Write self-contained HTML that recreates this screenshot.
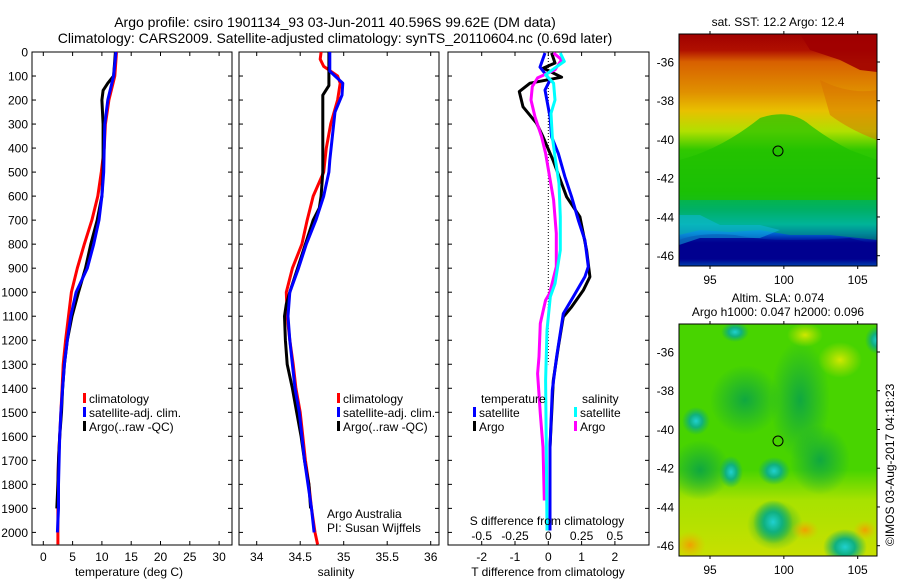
<!DOCTYPE html>
<html><head><meta charset="utf-8">
<style>
html,body{margin:0;padding:0;background:#fff;}
svg{display:block;font-family:"Liberation Sans",sans-serif;}
text{fill:#000;}
</style></head>
<body>
<svg id="fig" width="900" height="580" viewBox="0 0 900 580" xmlns="http://www.w3.org/2000/svg">
<defs>
<linearGradient id="sstGrad" x1="0" y1="0" x2="0" y2="1">
<stop offset="0" stop-color="#a00000"/>
<stop offset="0.07" stop-color="#b01000"/>
<stop offset="0.12" stop-color="#d86000"/>
<stop offset="0.25" stop-color="#e09000"/>
<stop offset="0.33" stop-color="#e8c000"/>
<stop offset="0.42" stop-color="#b0e000"/>
<stop offset="0.5" stop-color="#30c800"/>
<stop offset="0.68" stop-color="#10c010"/>
<stop offset="0.76" stop-color="#00b070"/>
<stop offset="0.82" stop-color="#00b8d0"/>
<stop offset="0.86" stop-color="#0060d0"/>
<stop offset="0.9" stop-color="#000090"/>
<stop offset="0.97" stop-color="#000090"/>
<stop offset="1" stop-color="#00a0e0"/>
</linearGradient>
<linearGradient id="slaBottom" x1="0" y1="0" x2="0" y2="1">
<stop offset="0" stop-color="#b8e400" stop-opacity="0"/>
<stop offset="0.35" stop-color="#b8e400" stop-opacity="0.85"/>
<stop offset="1" stop-color="#c8e000" stop-opacity="1"/>
</linearGradient>
<radialGradient id="blobDark"><stop offset="0" stop-color="#10a840"/><stop offset="1" stop-color="#10a840" stop-opacity="0"/></radialGradient>
<radialGradient id="blobCyan"><stop offset="0" stop-color="#20d0d0"/><stop offset="0.45" stop-color="#10b080"/><stop offset="1" stop-color="#10b060" stop-opacity="0"/></radialGradient>
<radialGradient id="blobYel"><stop offset="0" stop-color="#d0e800"/><stop offset="1" stop-color="#c0e000" stop-opacity="0"/></radialGradient>
<radialGradient id="blobOr"><stop offset="0" stop-color="#f0a000"/><stop offset="1" stop-color="#e0c000" stop-opacity="0"/></radialGradient>
<clipPath id="clipMap1"><rect x="679" y="34" width="198" height="232"/></clipPath>
<clipPath id="clipMap2"><rect x="679" y="324" width="198" height="232"/></clipPath>
</defs>

<text x="335" y="27" font-size="14" text-anchor="middle">Argo profile: csiro 1901134_93 03-Jun-2011 40.596S 99.62E (DM data)</text>
<text x="335" y="43" font-size="14" text-anchor="middle">Climatology: CARS2009. Satellite-adjusted climatology: synTS_20110604.nc (0.69d later)</text>

<g id="p1"></g>
<g id="p2"></g>
<g id="p3"></g>

<!-- Map 1: SST -->
<g>
<text x="778" y="26" font-size="12" text-anchor="middle">sat. SST: 12.2 Argo: 12.4</text>
<g clip-path="url(#clipMap1)">
<rect x="679" y="34" width="198" height="232" fill="url(#sstGrad)"/>
<path d="M800 34 L877 34 L877 72 L860 70 L840 60 L810 50 Z" fill="#a00000" opacity="0.9"/>
<path d="M820 80 Q850 95 877 90 L877 140 Q850 130 830 115 Z" fill="#d87000" opacity="0.5"/>
<path d="M760 118 Q790 108 810 125 Q830 140 850 150 L877 160 L877 200 L679 200 L679 160 Q720 150 760 118 Z" fill="#20c000" opacity="0.7"/>
<path d="M679 200 L877 200 L877 240 L830 235 L790 235 L760 230 L730 232 L700 230 L679 235 Z" fill="#00b060" opacity="0.5"/>
<path d="M679 240 Q700 232 735 235 Q760 240 790 240 Q820 240 850 238 L877 245 L877 266 L679 266 Z" fill="#000090" opacity="0.6"/>
<path d="M679 215 L700 215 L720 225 L760 225 L780 230 L760 238 L700 238 L679 245 Z" fill="#10b8e0" opacity="0.5"/>
</g>
<rect x="679" y="34" width="198" height="232" fill="none" stroke="#000" stroke-width="1"/>
<circle cx="778" cy="151" r="5" fill="none" stroke="#000" stroke-width="1"/>
<g id="m1axes"></g>
</g>

<!-- Map 2: SLA -->
<g>
<text x="778" y="302" font-size="12" text-anchor="middle">Altim. SLA: 0.074</text>
<text x="778" y="316" font-size="12" text-anchor="middle">Argo h1000: 0.047 h2000: 0.096</text>
<g clip-path="url(#clipMap2)">
<rect x="679" y="324" width="198" height="232" fill="#48d400"/>
<rect x="679" y="470" width="198" height="86" fill="url(#slaBottom)"/>
<ellipse cx="745" cy="400" rx="35" ry="35" fill="url(#blobDark)"/>
<ellipse cx="800" cy="400" rx="30" ry="60" fill="url(#blobDark)"/>
<ellipse cx="820" cy="460" rx="30" ry="35" fill="url(#blobDark)"/>
<ellipse cx="700" cy="470" rx="30" ry="30" fill="url(#blobDark)"/>
<ellipse cx="775" cy="525" rx="28" ry="25" fill="url(#blobDark)"/>
<ellipse cx="696" cy="421" rx="14" ry="14" fill="url(#blobCyan)"/>
<ellipse cx="731" cy="472" rx="12" ry="16" fill="url(#blobCyan)"/>
<ellipse cx="774" cy="471" rx="16" ry="14" fill="url(#blobCyan)"/>
<ellipse cx="773" cy="522" rx="20" ry="22" fill="url(#blobCyan)"/>
<ellipse cx="845" cy="547" rx="22" ry="18" fill="url(#blobCyan)"/>
<ellipse cx="735" cy="332" rx="14" ry="10" fill="url(#blobCyan)"/>
<ellipse cx="877" cy="340" rx="12" ry="14" fill="url(#blobCyan)"/>
<ellipse cx="840" cy="360" rx="22" ry="18" fill="url(#blobYel)"/>
<ellipse cx="805" cy="335" rx="18" ry="12" fill="url(#blobYel)"/>
<ellipse cx="690" cy="545" rx="16" ry="14" fill="url(#blobOr)"/>
<ellipse cx="805" cy="530" rx="14" ry="10" fill="url(#blobOr)"/>
<ellipse cx="865" cy="530" rx="12" ry="10" fill="url(#blobOr)"/>
</g>
<rect x="679" y="324" width="198" height="232" fill="none" stroke="#000" stroke-width="1"/>
<circle cx="778" cy="441" r="5" fill="none" stroke="#000" stroke-width="1"/>
<g id="m2axes"></g>
</g>
<text transform="translate(894,546) rotate(-90)" font-size="12">©IMOS 03-Aug-2017 04:18:23</text>
</svg>

<script>
// ---- depth axis data ----
const depthTicks = [0,100,200,300,400,500,600,700,800,900,1000,1100,1200,1300,1400,1500,1600,1700,1800,1900,2000];
// ---- temperature (deg C) ----
const tempTicks = [0,5,10,15,20,25,30];
const tClimDepth = [0,100,200,300,400,500,600,700,800,900,1000,1100,1200,1300,1400,1500,1600,1700,1800,1900,2050];
const tClim = [12.5,12.2,11.2,10.6,10.4,9.9,9.3,8.3,7.0,5.8,4.8,4.3,3.8,3.4,3.2,3.0,2.8,2.6,2.5,2.5,2.5];
const tSatDepth = [0,100,200,300,400,500,600,700,800,900,1000,1100,1200,1300,1400,1500,1600,1700,1800,1900,2000];
const tSat = [12.4,12.0,11.0,10.5,10.4,10.3,10.0,9.5,8.6,7.5,5.6,4.7,4.1,3.6,3.3,3.0,2.8,2.7,2.6,2.6,2.4];
const tArgoDepth = [0,100,130,160,200,300,400,500,600,700,800,900,1000,1100,1200,1300,1400,1500,1600,1700,1800,1900];
const tArgo = [12.3,12.0,11.0,10.2,10.0,10.2,10.2,10.2,10.0,9.2,8.1,7.2,6.0,4.9,4.1,3.6,3.3,3.1,2.8,2.6,2.5,2.3];
// ---- salinity ----
const salTicks = [34,34.5,35,35.5,36];
const sClimDepth = [0,30,60,80,100,130,200,300,400,500,600,700,800,900,1000,1100,1200,1300,1400,1500,1600,1700,1800,1900,2000,2050];
const sClim = [34.74,34.73,34.77,34.85,34.93,34.96,34.93,34.85,34.8,34.77,34.65,34.58,34.52,34.41,34.34,34.35,34.38,34.42,34.45,34.5,34.53,34.56,34.6,34.63,34.67,34.7];
const sSatDepth = [0,80,100,130,180,250,350,450,500,600,700,800,900,1000,1100,1200,1300,1400,1500,1600,1700,1800,1900,2000];
const sSat = [34.84,34.84,34.9,34.99,34.98,34.9,34.87,34.84,34.83,34.77,34.68,34.57,34.48,34.38,34.36,34.38,34.41,34.44,34.49,34.52,34.55,34.59,34.63,34.66];
const sArgoDepth = [0,80,140,180,300,400,500,600,650,700,800,900,1000,1050,1100,1200,1300,1400,1500,1600,1700,1800,1900];
const sArgo = [34.83,34.83,34.83,34.76,34.76,34.76,34.76,34.74,34.72,34.65,34.56,34.47,34.38,34.34,34.32,34.33,34.35,34.41,34.46,34.51,34.55,34.6,34.62];
// ---- differences ----
const tDiffTicks = [-2,-1,0,1,2];
const sDiffTicks = [-0.5,-0.25,0,0.25,0.5];
const sDiffTickLabels = ["-0.5","-0.25","0","0.25","0.5"];
const dTArgoDepth = [4,46,67,105,130,165,228,297,353,450,603,686,825,936,992,1061,1103,1228,1367,1645];
const dTArgo = [0.1,0.2,-0.15,0.4,-0.55,-0.87,-0.76,-0.35,-0.16,0.14,0.55,0.95,1.15,1.25,1.05,0.7,0.45,0.3,0.15,0.05];
const dTSatDepth = [4,63,117,158,270,353,422,519,603,700,783,894,936,1019,1089,1269,1408,1645,1992];
const dTSat = [-0.1,-0.25,0.05,-0.1,0.05,0.1,0.3,0.5,0.7,0.9,1.1,1.2,1.1,0.75,0.45,0.25,0.12,0.05,0.05];
const dSSatDepth = [4,39,74,95,130,200,255,353,436,547,686,825,964,1019,1158,1367,1645,1992];
const dSSat = [0.09,0.12,0.03,-0.02,0.04,0.05,0.02,0.03,0.05,0.08,0.09,0.09,0.05,0.015,-0.01,-0.02,-0.015,-0.01];
const dSArgoDepth = [4,32,74,108,144,200,270,353,422,519,616,755,894,1005,1033,1130,1269,1339,1506,1645,1867];
const dSArgo = [0.04,0.1,0.05,-0.08,-0.12,-0.13,-0.1,-0.05,-0.02,0.01,0.04,0.06,0.06,0.01,-0.02,-0.06,-0.07,-0.08,-0.06,-0.04,-0.03];
// ---- maps ----
const lonTicks = [95,100,105];
const latTicks = [-36,-38,-40,-42,-44,-46];

const NS = "http://www.w3.org/2000/svg";
function el(tag, attrs, parent, txt){
  const e = document.createElementNS(NS, tag);
  for (const k in attrs) e.setAttribute(k, attrs[k]);
  if (txt !== undefined) e.textContent = txt;
  parent.appendChild(e);
  return e;
}
const TOP = 52, BOT = 545;
const yD = d => TOP + d * 0.2402;

function frame(g, x0, x1, name){
  const r = el('rect', {x:x0, y:TOP, width:x1-x0, height:BOT-TOP, fill:'none', stroke:'#000', 'stroke-width':1}, g);
  
  
}
function yTicks(g, x0, x1, labels){
  depthTicks.forEach(d => {
    const y = yD(d);
    el('line', {x1:x0, y1:y, x2:x0+4, y2:y, stroke:'#000'}, g);
    el('line', {x1:x1, y1:y, x2:x1-4, y2:y, stroke:'#000'}, g);
    if (labels) {
      const t = el('text', {x:x0-4, y:y+4.5, 'font-size':12, 'text-anchor':'end'}, g, String(d));
      
      
    }
  });
}
function xTicks(g, ticks, fx, labels, ly){
  ticks.forEach((v,i) => {
    const x = fx(v);
    el('line', {x1:x, y1:TOP, x2:x, y2:TOP+4, stroke:'#000'}, g);
    el('line', {x1:x, y1:BOT, x2:x, y2:BOT-4, stroke:'#000'}, g);
    const t = el('text', {x:x, y:ly, 'font-size':12, 'text-anchor':'middle'}, g, labels ? labels[i] : String(v));
    
    
  });
}
function line(g, xs, ds, fx, color, name){
  const pts = xs.map((v,i) => fx(v).toFixed(1) + ',' + yD(ds[i]).toFixed(1)).join(' ');
  const p = el('polyline', {points:pts, fill:'none', stroke:color, 'stroke-width':3, 'stroke-linejoin':'round'}, g);
  
  
}
function legendRow(g, x, y, color, label, name){
  const r = el('rect', {x:x, y:y-10, width:3, height:10, fill:color}, g);
  
  
  const t = el('text', {x:x+6, y:y, 'font-size':12}, g, label);
  
  
}
function label(g, x, y, s, anchor, name){
  const t = el('text', {x:x, y:y, 'font-size':12, 'text-anchor':anchor||'start'}, g, s);
  
  
}

// Panel 1: temperature
const p1 = document.getElementById('p1');
const fT = v => 43.3 + 5.86 * v;
frame(p1, 32, 232, 'temperature-plot');
yTicks(p1, 32, 232, true);
xTicks(p1, tempTicks, fT, null, 561);
label(p1, 129, 576, 'temperature (deg C)', 'middle', 'x-axis-title-temperature');
line(p1, tClim, tClimDepth, fT, '#ff0000', 'temperature-climatology-line');
line(p1, tArgo, tArgoDepth, fT, '#000000', 'temperature-argo-line');
line(p1, tSat, tSatDepth, fT, '#0000ff', 'temperature-satellite-line');
legendRow(p1, 83, 403, '#ff0000', 'climatology', 'legend-climatology');
legendRow(p1, 83, 417, '#0000ff', 'satellite-adj. clim.', 'legend-satellite');
legendRow(p1, 83, 431, '#000000', 'Argo(..raw -QC)', 'legend-argo');

// Panel 2: salinity
const p2 = document.getElementById('p2');
const fS = v => 256.7 + 87 * (v - 34);
frame(p2, 239, 439, 'salinity-plot');
yTicks(p2, 239, 439, false);
xTicks(p2, salTicks, fS, null, 561);
label(p2, 336, 576, 'salinity', 'middle', 'x-axis-title-salinity');
line(p2, sClim, sClimDepth, fS, '#ff0000', 'salinity-climatology-line');
line(p2, sArgo, sArgoDepth, fS, '#000000', 'salinity-argo-line');
line(p2, sSat, sSatDepth, fS, '#0000ff', 'salinity-satellite-line');
legendRow(p2, 337, 403, '#ff0000', 'climatology', 'legend-climatology-sal');
legendRow(p2, 337, 417, '#0000ff', 'satellite-adj. clim.', 'legend-satellite-sal');
legendRow(p2, 337, 431, '#000000', 'Argo(..raw -QC)', 'legend-argo-sal');
label(p2, 327, 518, 'Argo Australia', 'start', 'credit-argo-australia');
label(p2, 327, 532, 'PI: Susan Wijffels', 'start', 'credit-pi');

// Panel 3: differences
const p3 = document.getElementById('p3');
const fdT = v => 548.3 + 33.3 * v;
const fdS = v => 548.3 + 133.2 * v;
frame(p3, 448, 649, 'difference-plot');
yTicks(p3, 448, 649, false);
xTicks(p3, tDiffTicks, fdT, null, 561);
const zl = el('line', {x1:548.3, y1:TOP, x2:548.3, y2:yD(1300), stroke:'#000', 'stroke-dasharray':'1,2'}, p3);


label(p3, 548, 576, 'T difference from climatology', 'middle', 'x-axis-title-tdiff');
line(p3, dTArgo, dTArgoDepth, fdT, '#000000', 'tdiff-argo-line');
line(p3, dTSat, dTSatDepth, fdT, '#0000ff', 'tdiff-satellite-line');
line(p3, dSArgo, dSArgoDepth, fdS, '#ff00ff', 'sdiff-argo-line');
line(p3, dSSat, dSSatDepth, fdS, '#00ffff', 'sdiff-satellite-line');
sDiffTicks.forEach((v,i) => {
  const t = el('text', {x:fdS(v), y:540, 'font-size':12, 'text-anchor':'middle'}, p3, sDiffTickLabels[i]);
  
  
});
label(p3, 547, 525, 'S difference from climatology', 'middle', 's-diff-axis-title');
label(p3, 481, 403, 'temperature', 'start', 'legend-temperature-heading');
label(p3, 582, 403, 'salinity', 'start', 'legend-salinity-heading');
legendRow(p3, 473, 417, '#0000ff', 'satellite', 'legend-tdiff-satellite');
legendRow(p3, 473, 431, '#000000', 'Argo', 'legend-tdiff-argo');
legendRow(p3, 574, 417, '#00ffff', 'satellite', 'legend-sdiff-satellite');
legendRow(p3, 574, 431, '#ff00ff', 'Argo', 'legend-sdiff-argo');

// Map axes
function mapAxes(gid, top, bot, latY0){
  const g = document.getElementById(gid);
  const fLon = v => 710 + 14.77 * (v - 95);
  const fLat = v => latY0 + 19.37 * (-36 - v);
  lonTicks.forEach(v => {
    const x = fLon(v);
    el('line', {x1:x, y1:top, x2:x, y2:top-3, stroke:'#000'}, g);
    el('line', {x1:x, y1:bot, x2:x, y2:bot+3, stroke:'#000'}, g);
    const t = el('text', {x:x, y:bot+18, 'font-size':12, 'text-anchor':'middle'}, g, String(v));
    
    
  });
  latTicks.forEach(v => {
    const y = fLat(v);
    el('line', {x1:877, y1:y, x2:880, y2:y, stroke:'#000'}, g);
    const t = el('text', {x:674, y:y+4.5, 'font-size':12, 'text-anchor':'end'}, g, String(v));
    
    
  });
}
mapAxes('m1axes', 34, 266, 62);
mapAxes('m2axes', 324, 556, 352);
</script>
</body></html>
